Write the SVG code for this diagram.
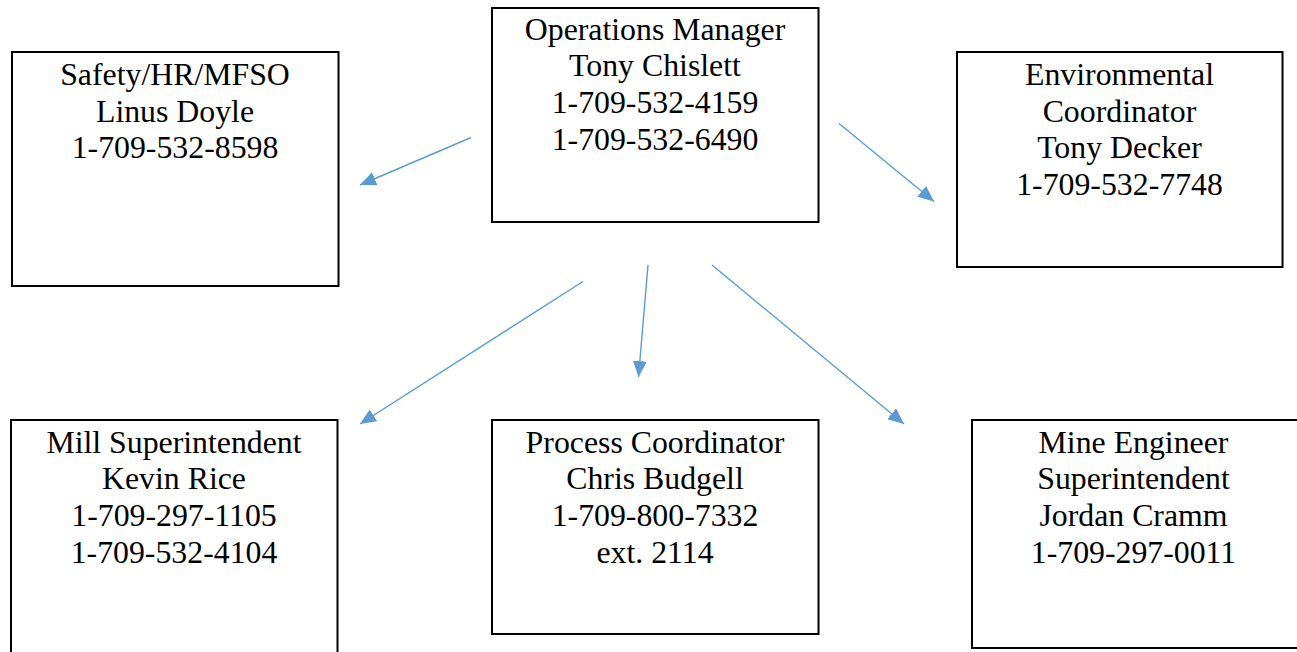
<svg xmlns="http://www.w3.org/2000/svg" width="1297" height="652" viewBox="0 0 1297 652">
<style>
.box{fill:#fff;stroke:#000;stroke-width:2}
.t{font-family:"Liberation Serif","Times New Roman",serif;font-size:31.8px;fill:#000;text-anchor:middle}
.c{stroke:#5B9BD5;stroke-width:1.4;fill:none;marker-end:url(#ah)}
</style>
<defs>
<marker id="ah" viewBox="0 0 16 14" refX="16" refY="7" markerWidth="16" markerHeight="14" markerUnits="userSpaceOnUse" orient="auto">
<path d="M0,0 L16,7 L0,14 z" fill="#5B9BD5"/>
</marker>
</defs>
<rect width="1297" height="652" fill="#fff"/>
<g id="ops">
<rect class="box" x="492" y="8" width="326.5" height="214"/>
<text class="t" x="655" y="39.5">Operations Manager</text>
<text class="t" x="655" y="76.2">Tony Chislett</text>
<text class="t" x="655" y="112.9">1-709-532-4159</text>
<text class="t" x="655" y="149.6">1-709-532-6490</text>
</g>
<g id="safety">
<rect class="box" x="12" y="52" width="326.5" height="234"/>
<text class="t" x="175" y="85">Safety/HR/MFSO</text>
<text class="t" x="175" y="121.7">Linus Doyle</text>
<text class="t" x="175" y="158.4">1-709-532-8598</text>
</g>
<g id="env">
<rect class="box" x="957" y="52" width="325.5" height="215"/>
<text class="t" x="1119.5" y="85">Environmental</text>
<text class="t" x="1119.5" y="121.7">Coordinator</text>
<text class="t" x="1119.5" y="158.4">Tony Decker</text>
<text class="t" x="1119.5" y="195.1">1-709-532-7748</text>
</g>
<g id="mill">
<rect class="box" x="11" y="420" width="326.5" height="240"/>
<text class="t" x="174" y="452.5">Mill Superintendent</text>
<text class="t" x="174" y="489.2">Kevin Rice</text>
<text class="t" x="174" y="525.9">1-709-297-1105</text>
<text class="t" x="174" y="562.6">1-709-532-4104</text>
</g>
<g id="process">
<rect class="box" x="492" y="420" width="326.5" height="214"/>
<text class="t" x="655" y="452.5">Process Coordinator</text>
<text class="t" x="655" y="489.2">Chris Budgell</text>
<text class="t" x="655" y="525.9">1-709-800-7332</text>
<text class="t" x="655" y="562.6">ext. 2114</text>
</g>
<g id="mine">
<rect class="box" x="972" y="420" width="330" height="228"/>
<text class="t" x="1133.5" y="452.5">Mine Engineer</text>
<text class="t" x="1133.5" y="489.2">Superintendent</text>
<text class="t" x="1133.5" y="525.9">Jordan Cramm</text>
<text class="t" x="1133.5" y="562.6">1-709-297-0011</text>
</g>
<g id="connectors">
<line class="c" x1="471" y1="137.5" x2="360" y2="185"/>
<line class="c" x1="839" y1="123.5" x2="934" y2="201.5"/>
<line class="c" x1="583" y1="281.5" x2="360" y2="424"/>
<line class="c" x1="648" y1="265" x2="638.5" y2="377"/>
<line class="c" x1="712" y1="265" x2="904" y2="424"/>
</g>
</svg>
